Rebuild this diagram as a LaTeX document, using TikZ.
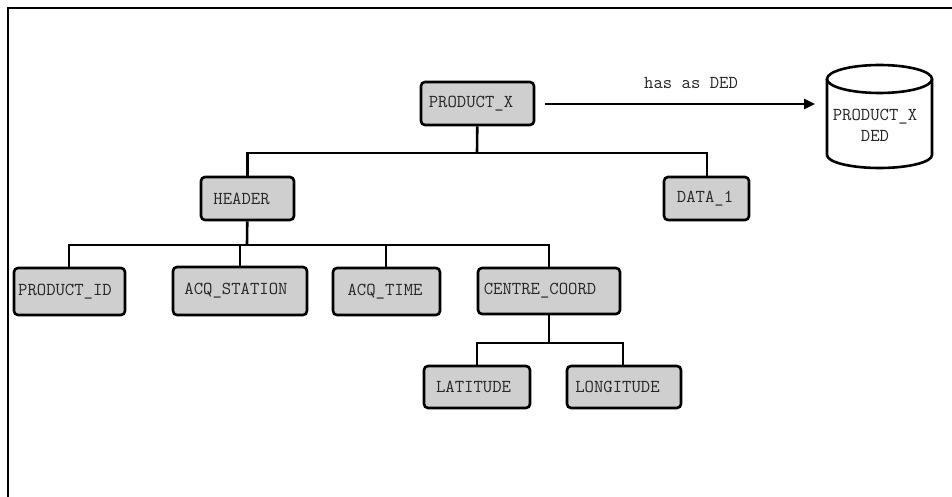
\documentclass[tikz,border=0pt]{standalone}
\usetikzlibrary{arrows.meta}
\begin{document}
\begin{tikzpicture}[x=1pt,y=-1pt,
  box/.style={draw=black,fill=black!19,line width=2.6pt,rounded corners=4pt,inner sep=0pt,text=black!85,font=\ttfamily\fontsize{18.2}{21}\selectfont},
  link/.style={draw=black,line width=2.6pt},
  lbl/.style={inner sep=0pt,text=black!85,font=\ttfamily\fontsize{18.2}{21}\selectfont}]
\useasboundingbox (0,0) rectangle (952,497);
\fill[white] (0,0) rectangle (952,497);
\draw[line width=2.6pt] (8,497) -- (8,8) -- (952,8);
\newcommand{\bx}[7]{\node[box,minimum width=#3-#2,minimum height=#5-#4,anchor=center] (#1) at ({(#2+#3)/2},{(#4+#5)/2}) {\raisebox{-1.2pt}{\mbox{#6}}\hspace*{#7pt}};}
\bx{px}{421}{534}{82}{125}{PRODUCT\_X}{13}
\bx{data}{664}{749}{177}{220}{DATA\_1}{3}
\bx{hdr}{201}{294}{177}{220}{HEADER}{12}
\bx{pid}{14}{125}{268}{315}{PRODUCT\_ID}{9}
\bx{stn}{173}{307}{267}{315}{ACQ\_STATION}{8}
\bx{tim}{333}{440}{268}{315}{ACQ\_TIME}{3}
\bx{cc}{478}{620}{268}{314}{CENTRE\_COORD}{18}
\bx{lat}{424}{530}{366}{408}{LATITUDE}{7}
\bx{lon}{567}{681}{366}{408}{LONGITUDE}{13}
\coordinate (cT) at (879.5,79);
\draw[line width=2.6pt,fill=white] (827,79) -- (827,155) arc[start angle=180,end angle=360,x radius=52.5pt,y radius=13pt] -- (932,79);
\draw[line width=2.6pt,fill=white] (cT) ellipse[x radius=52.5pt,y radius=14pt];
\node[lbl,align=center] (ded) at (875,125) {PRODUCT\_X\\DED};
\coordinate (j1) at (477,153);
\coordinate (j2) at (247,245);
\coordinate (j3) at (549,343);
\coordinate (arrowStart) at (545,104);
\coordinate (arrowEnd) at (815,104);
\draw[link] (px) -- (j1);
\draw[link] (hdr.north) -- (hdr.north |- j1) -- (707,153) -- (data.north -| 707,177);
\draw[link] (hdr) -- (j2);
\draw[link] (pid.north -| 69,0) -- (69,245) -- (549,245) -- (cc.north -| 549,0);
\draw[link] (240,245) -- (stn.north -| 240,0);
\draw[link] (386,245) -- (tim.north -| 386,0);
\draw[link] (cc) -- (j3);
\draw[link] (lat.north) -- (477,343) -- (623,343) -- (lon.north -| 623,0);
\draw[link,-{Triangle[length=11pt,width=10pt]}] (arrowStart) -- (arrowEnd);
\node[lbl] (has) at (691,83) {has as DED};
\end{tikzpicture}
\end{document}
